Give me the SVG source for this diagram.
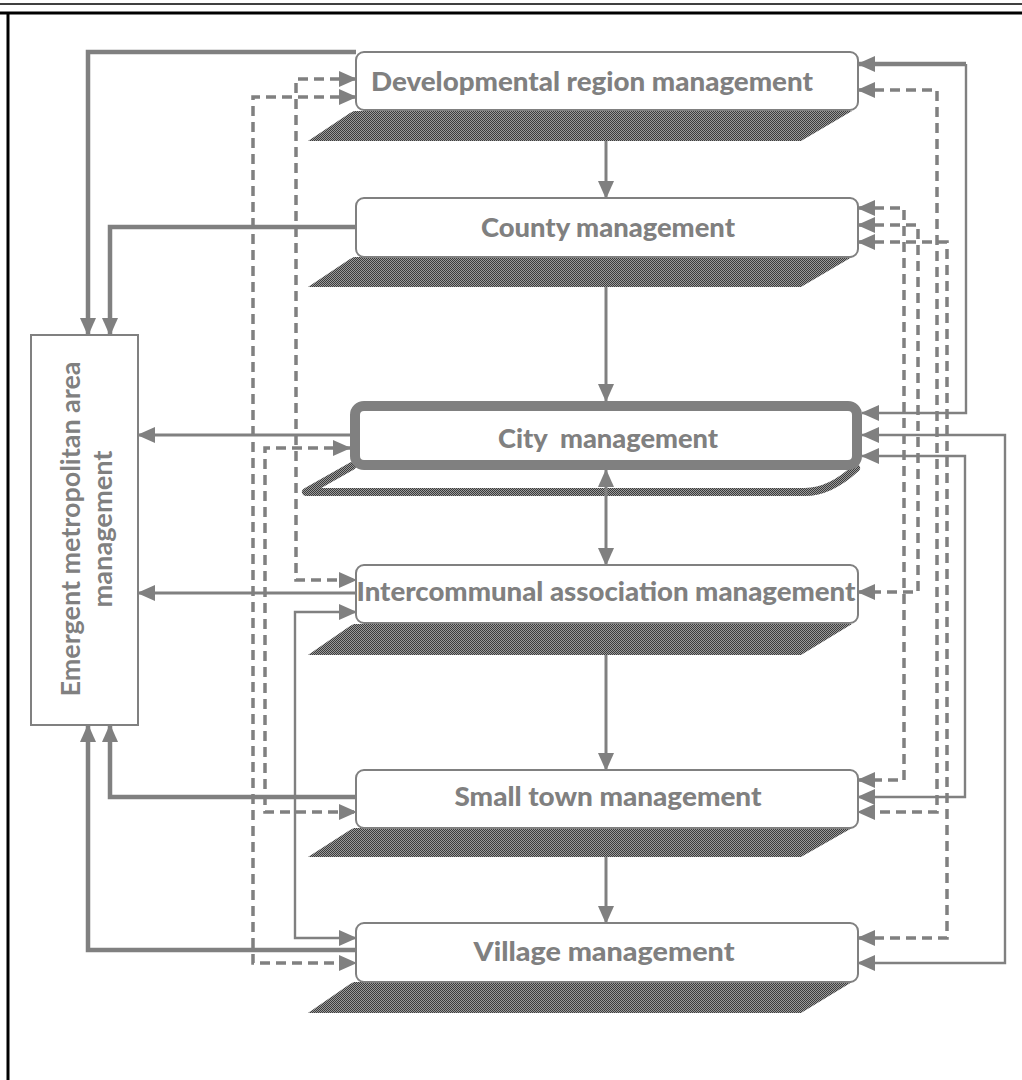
<svg xmlns="http://www.w3.org/2000/svg" width="1022" height="1080" viewBox="0 0 1022 1080">
<style>
.box{fill:#fff;stroke:#808080;stroke-width:2}
.lbl{font-family:Lato,"Open Sans","Liberation Sans",sans-serif;font-weight:900;font-size:27px;fill:#808080;text-anchor:middle}
.em{font-family:Lato,"Open Sans","Liberation Sans",sans-serif;font-weight:bold;font-size:26px;fill:#808080;text-anchor:middle}
.c{fill:none;stroke:#808080}
.s4{stroke-width:4.5}
.s3{stroke-width:3}
.s2{stroke-width:2.4}
.d{stroke-width:3.5;stroke-dasharray:10 6}
.sh{fill:url(#dots)}
</style>
<defs>
<pattern id="dots" width="2" height="2" patternUnits="userSpaceOnUse">
<rect width="2" height="2" fill="#9a9a9a"/>
<rect width="1" height="1" fill="#3c3c3c"/>
<rect x="1" y="1" width="1" height="1" fill="#3c3c3c"/>
</pattern>
<marker id="ah" viewBox="0 0 18 16" refX="17" refY="8" markerWidth="18" markerHeight="16" markerUnits="userSpaceOnUse" orient="auto-start-reverse">
<path d="M0,0 L18,8 L0,16 z" fill="#808080"/>
</marker>
</defs>
<rect width="1022" height="1080" fill="#fff"/>
<g id="frame">
<line x1="0" y1="4" x2="1022" y2="4" stroke="#000" stroke-width="1.5"/>
<line x1="0" y1="13" x2="1022" y2="13" stroke="#000" stroke-width="3"/>
<line x1="8" y1="12" x2="8" y2="1080" stroke="#000" stroke-width="3"/>
</g>
<g id="shadows">
<path class="sh" d="M354,111 L852,111 L801,141 L308,141 L350,113 z"/>
<path class="sh" d="M354,257 L852,257 L801,287 L308,287 L350,259 z"/>
<path class="sh" d="M354,624 L852,624 L801,655 L308,655 L350,626 z"/>
<path class="sh" d="M354,828 L852,828 L801,857 L308,857 L350,830 z"/>
<path class="sh" d="M354,982 L852,982 L801,1013 L308,1013 L350,984 z"/>
<path d="M352,466 L306,492 L805,492 Q830,492 856,468" fill="none" stroke="url(#dots)" stroke-width="8" stroke-linejoin="round" stroke-linecap="round"/>
</g>
<g id="connectors">
<path class="c s3" d="M606,141 V198" marker-end="url(#ah)"/>
<path class="c s3" d="M606,287 V401" marker-end="url(#ah)"/>
<path class="c s3" d="M606,470 V565" marker-start="url(#ah)" marker-end="url(#ah)"/>
<path class="c s3" d="M606,655 V770" marker-end="url(#ah)"/>
<path class="c s3" d="M606,857 V923" marker-end="url(#ah)"/>
<path class="c s4" d="M356,52 H88 V335" marker-end="url(#ah)"/>
<path class="c s4" d="M356,227 H110 V335" marker-end="url(#ah)"/>
<path class="c s3" d="M350,435 H138" marker-end="url(#ah)"/>
<path class="c s3" d="M356,593 H138" marker-end="url(#ah)"/>
<path class="c s4" d="M356,797 H110 V725" marker-end="url(#ah)"/>
<path class="c s4" d="M356,950 H88 V725" marker-end="url(#ah)"/>
<path class="c d" d="M356,79 H296 V580 H356" marker-start="url(#ah)" marker-end="url(#ah)"/>
<path class="c d" d="M356,97 H253 V963 H356" marker-start="url(#ah)" marker-end="url(#ah)"/>
<path class="c d" d="M350,448 H265 V812 H356" marker-start="url(#ah)" marker-end="url(#ah)"/>
<path class="c s2" d="M356,612 H295 V938 H356" marker-start="url(#ah)" marker-end="url(#ah)"/>
<path class="c s4" d="M858,64 H966" marker-start="url(#ah)"/>
<path class="c s2" d="M966,64 V413 H862" marker-end="url(#ah)"/>
<path class="c d" d="M858,90 H937 V812 H858" marker-start="url(#ah)" marker-end="url(#ah)"/>
<path class="c d" d="M858,208 H904 V780 H858" marker-start="url(#ah)" marker-end="url(#ah)"/>
<path class="c d" d="M858,225 H918 V592 H858" marker-start="url(#ah)" marker-end="url(#ah)"/>
<path class="c d" d="M858,242 H947 V938 H858" marker-start="url(#ah)" marker-end="url(#ah)"/>
<path class="c s2" d="M862,435 H1005 V963 H858" marker-start="url(#ah)" marker-end="url(#ah)"/>
<path class="c s2" d="M862,456 H965 V797 H858" marker-start="url(#ah)" marker-end="url(#ah)"/>
</g>
<g id="emergent">
<rect x="31" y="335" width="107" height="390" fill="#fff" stroke="#808080" stroke-width="2"/>
<text class="em" transform="translate(80,529) rotate(-90)" textLength="335" lengthAdjust="spacingAndGlyphs">Emergent metropolitan area</text>
<text class="em" transform="translate(112,529) rotate(-90)" textLength="157" lengthAdjust="spacingAndGlyphs">management</text>
</g>
<g id="dev">
<rect class="box" x="356" y="52" width="502" height="58" rx="8"/>
<text class="lbl" x="592" y="91" textLength="442" lengthAdjust="spacingAndGlyphs">Developmental region management</text>
</g>
<g id="county">
<rect class="box" x="356" y="198" width="502" height="59" rx="8"/>
<text class="lbl" x="608" y="237" textLength="254" lengthAdjust="spacingAndGlyphs">County management</text>
</g>
<g id="city">
<rect x="355" y="406" width="502" height="59" rx="9" fill="#fff" stroke="#808080" stroke-width="10"/>
<text class="lbl" x="608" y="448" textLength="220" lengthAdjust="spacingAndGlyphs" xml:space="preserve">City  management</text>
</g>
<g id="intercommunal">
<rect class="box" x="356" y="565" width="502" height="58" rx="8"/>
<text class="lbl" x="606" y="601" textLength="499" lengthAdjust="spacingAndGlyphs">Intercommunal association management</text>
</g>
<g id="smalltown">
<rect class="box" x="356" y="770" width="502" height="58" rx="8"/>
<text class="lbl" x="608" y="806" textLength="307" lengthAdjust="spacingAndGlyphs">Small town management</text>
</g>
<g id="village">
<rect class="box" x="356" y="923" width="502" height="59" rx="8"/>
<text class="lbl" x="604" y="961" textLength="261" lengthAdjust="spacingAndGlyphs">Village management</text>
</g>
</svg>
